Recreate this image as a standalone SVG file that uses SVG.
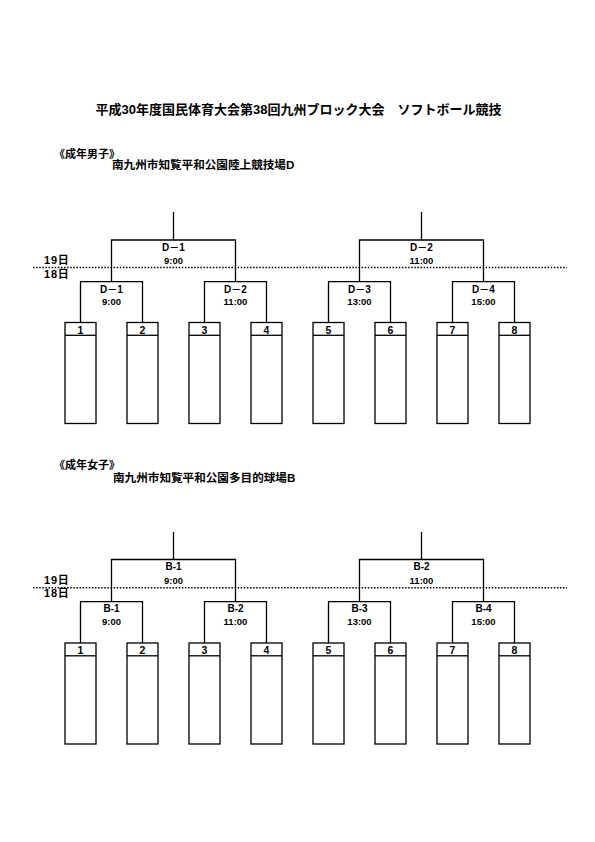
<svg xmlns="http://www.w3.org/2000/svg" width="595" height="842" viewBox="0 0 595 842">
<style>
text{font-family:"Liberation Sans","Noto Sans CJK JP",sans-serif;font-weight:bold;fill:#000}
.t{font-size:13px}
.h{font-size:11px}
.v{font-size:11.6px}
.d{font-size:11px;letter-spacing:0.8px}
.c{text-anchor:middle}
.lb{font-size:10px}
.tm{font-size:9.5px}
.n{font-size:10.5px}
.ln{stroke:#000;stroke-width:1.3;fill:none}
.box{stroke:#000;stroke-width:1.3;fill:#fff}
.dot{stroke:#000;stroke-width:1.5;stroke-dasharray:1.5 1.6;fill:none}
</style>
<rect width="595" height="842" fill="#fff"/>
<text class="t" x="298.5" y="114" text-anchor="middle">平成30年度国民体育大会第38回九州ブロック大会　ソフトボール競技</text>

<!-- Men -->
<g id="men-header">
<text class="h" x="54" y="158">《成年男子》</text>
<text class="v" x="112" y="169">南九州市知覧平和公園陸上競技場D</text>
<text class="d" x="44" y="264">19日</text>
<text class="d" x="44" y="278">18日</text>
</g>
<g id="men-connectors">
<path class="dot" d="M33 267.5H567"/>
<path class="ln" d="M173.5 212V240M111.5 281.7V240H235.5V281.7M421.5 212V240M359.5 281.7V240H483.5V281.7"/>
<path class="ln" d="M80.5 322.5V281.7H142.5V322.5M204.5 322.5V281.7H266.5V322.5M328.5 322.5V281.7H390.5V322.5M452.5 322.5V281.7H514.5V322.5"/>
</g>
<g id="men-final-D1"><text class="lb c" x="173.5" y="251">D－1</text><text class="tm c" x="173.5" y="264">9:00</text></g>
<g id="men-final-D2"><text class="lb c" x="421.5" y="251">D－2</text><text class="tm c" x="421.5" y="264">11:00</text></g>
<g id="men-D1"><text class="lb c" x="111.5" y="292.5">D－1</text><text class="tm c" x="111.5" y="305">9:00</text></g>
<g id="men-D2"><text class="lb c" x="235.5" y="292.5">D－2</text><text class="tm c" x="235.5" y="305">11:00</text></g>
<g id="men-D3"><text class="lb c" x="359.5" y="292.5">D－3</text><text class="tm c" x="359.5" y="305">13:00</text></g>
<g id="men-D4"><text class="lb c" x="483.5" y="292.5">D－4</text><text class="tm c" x="483.5" y="305">15:00</text></g>
<g id="men-team1"><rect class="box" x="65" y="322.5" width="31" height="101"/><path class="ln" d="M65 335.3H96"/><text class="n c" x="80.5" y="333.5">1</text></g>
<g id="men-team2"><rect class="box" x="127" y="322.5" width="31" height="101"/><path class="ln" d="M127 335.3H158"/><text class="n c" x="142.5" y="333.5">2</text></g>
<g id="men-team3"><rect class="box" x="189" y="322.5" width="31" height="101"/><path class="ln" d="M189 335.3H220"/><text class="n c" x="204.5" y="333.5">3</text></g>
<g id="men-team4"><rect class="box" x="251" y="322.5" width="31" height="101"/><path class="ln" d="M251 335.3H282"/><text class="n c" x="266.5" y="333.5">4</text></g>
<g id="men-team5"><rect class="box" x="313" y="322.5" width="31" height="101"/><path class="ln" d="M313 335.3H344"/><text class="n c" x="328.5" y="333.5">5</text></g>
<g id="men-team6"><rect class="box" x="375" y="322.5" width="31" height="101"/><path class="ln" d="M375 335.3H406"/><text class="n c" x="390.5" y="333.5">6</text></g>
<g id="men-team7"><rect class="box" x="437" y="322.5" width="31" height="101"/><path class="ln" d="M437 335.3H468"/><text class="n c" x="452.5" y="333.5">7</text></g>
<g id="men-team8"><rect class="box" x="499" y="322.5" width="31" height="101"/><path class="ln" d="M499 335.3H530"/><text class="n c" x="514.5" y="333.5">8</text></g>

<!-- Women -->
<g id="women-header">
<text class="h" x="54" y="469">《成年女子》</text>
<text class="v" x="113" y="481.5">南九州市知覧平和公園多目的球場B</text>
<text class="d" x="44" y="584">19日</text>
<text class="d" x="44" y="597">18日</text>
</g>
<g id="women-connectors">
<path class="dot" d="M33 587.7H567"/>
<path class="ln" d="M173.5 532V559.5M111.5 601.7V559.5H235.5V601.7M421.5 532V559.5M359.5 601.7V559.5H483.5V601.7"/>
<path class="ln" d="M80.5 643V601.7H142.5V643M204.5 643V601.7H266.5V643M328.5 643V601.7H390.5V643M452.5 643V601.7H514.5V643"/>
</g>
<g id="women-final-B1"><text class="lb c" x="173.5" y="569.5">B-1</text><text class="tm c" x="173.5" y="584">9:00</text></g>
<g id="women-final-B2"><text class="lb c" x="421.5" y="569.5">B-2</text><text class="tm c" x="421.5" y="584">11:00</text></g>
<g id="women-B1"><text class="lb c" x="111.5" y="611.5">B-1</text><text class="tm c" x="111.5" y="625">9:00</text></g>
<g id="women-B2"><text class="lb c" x="235.5" y="611.5">B-2</text><text class="tm c" x="235.5" y="625">11:00</text></g>
<g id="women-B3"><text class="lb c" x="359.5" y="611.5">B-3</text><text class="tm c" x="359.5" y="625">13:00</text></g>
<g id="women-B4"><text class="lb c" x="483.5" y="611.5">B-4</text><text class="tm c" x="483.5" y="625">15:00</text></g>
<g id="women-team1"><rect class="box" x="65" y="643" width="31" height="101"/><path class="ln" d="M65 655.8H96"/><text class="n c" x="80.5" y="654">1</text></g>
<g id="women-team2"><rect class="box" x="127" y="643" width="31" height="101"/><path class="ln" d="M127 655.8H158"/><text class="n c" x="142.5" y="654">2</text></g>
<g id="women-team3"><rect class="box" x="189" y="643" width="31" height="101"/><path class="ln" d="M189 655.8H220"/><text class="n c" x="204.5" y="654">3</text></g>
<g id="women-team4"><rect class="box" x="251" y="643" width="31" height="101"/><path class="ln" d="M251 655.8H282"/><text class="n c" x="266.5" y="654">4</text></g>
<g id="women-team5"><rect class="box" x="313" y="643" width="31" height="101"/><path class="ln" d="M313 655.8H344"/><text class="n c" x="328.5" y="654">5</text></g>
<g id="women-team6"><rect class="box" x="375" y="643" width="31" height="101"/><path class="ln" d="M375 655.8H406"/><text class="n c" x="390.5" y="654">6</text></g>
<g id="women-team7"><rect class="box" x="437" y="643" width="31" height="101"/><path class="ln" d="M437 655.8H468"/><text class="n c" x="452.5" y="654">7</text></g>
<g id="women-team8"><rect class="box" x="499" y="643" width="31" height="101"/><path class="ln" d="M499 655.8H530"/><text class="n c" x="514.5" y="654">8</text></g>
</svg>
